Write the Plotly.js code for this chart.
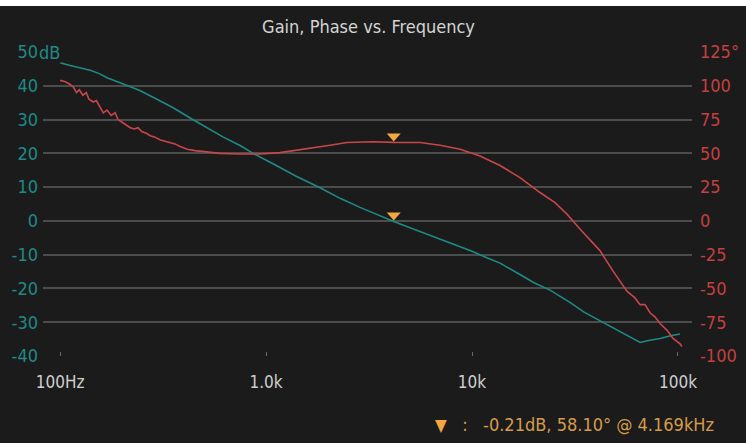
<!DOCTYPE html>
<html><head><meta charset="utf-8">
<script src="https://cdn.plot.ly/plotly-3.0.1.min.js"></script>
<style>
html,body{margin:0;padding:0;background:#ffffff;overflow:hidden;}
#chart{position:absolute;left:0;top:6px;width:746px;height:437px;}
</style>
</head><body><div id="chart"></div>
<script>
// ---- data ----
const gainFreqHz = [95,100,112,125,140,155,169,190,215,244,300,354,430,518,620,748,865,1081,1400,1828,2300,2858,3500,4169,5000,6000,7000,8500,10000,11800,13680,17000,20000,23930,30000,35000,41780,48000,55340,60000,65460,72000,81850,92000,102300];
const gainDb = [47.5,46.8,46.0,45.4,44.6,43.6,42.4,41.2,39.8,38.6,35.8,33.5,30.4,27.6,24.8,22.3,20.0,16.9,13.2,9.8,6.6,4.0,1.7,-0.21,-2.0,-3.8,-5.3,-7.3,-9.0,-10.9,-12.5,-15.8,-18.3,-20.5,-24.2,-27.0,-29.5,-31.6,-33.5,-34.8,-36.0,-35.4,-34.8,-34.0,-33.5];

const phaseFreqHz = [100,106,112,116,120,124,129,134,138,145,150,156,162,169,177,185,191,200,209,219,229,239,250,261,274,289,305,324,342,361,383,414,452,506,598,748,935,1170,1462,1690,2046,2472,3304,4169,5598,7000,8750,10940,13680,17100,21380,25290,28910,33420,37410,41780,48310,56490,61800,65460,69180,73110,77270,81850,88510,94620,102300,104500];
const phaseDeg = [104,103,101,99,95,97,93,95,90,88,89,84,80,82,78,80,75,73,71,69,68,69,66,65,63,62,60,59,58,57,55,53,52,51,50,49.5,49.5,50.5,52.5,54,56,58,58.6,58.1,58,56,53,48,41,32,21,13.5,5,-6,-14,-22,-37,-52,-57,-62,-62,-68,-71,-76,-81,-87,-91,-93];

const markerFreqHz = 4169;
const markerGainDb = -0.21;
const markerPhaseDeg = 58.10;

const titleText = 'Gain, Phase vs. Frequency';
const xTickVals = [100, 1000, 10000, 100000];
const xTickText = ['100Hz', '1.0k', '10k', '100k'];
const gainTickVals = [50, 40, 30, 20, 10, 0, -10, -20, -30, -40];
const gainTickText = ['50', '40', '30', '20', '10', '0', '-10', '-20', '-30', '-40'];
const gainUnit = 'dB';
const phaseTickVals = [125, 100, 75, 50, 25, 0, -25, -50, -75, -100];
const phaseTickText = ['125°', '100', '75', '50', '25', '0', '-25', '-50', '-75', '-100'];

// ---- styling ----
const FONT = '"Liberation Sans Narrow", "DejaVu Sans Condensed", "Roboto Condensed", "Arial Narrow", sans-serif';
const BG = '#1b1b1b';
const TEAL = '#1f8a86';
const RED = '#c8464a';
const ORANGE = '#f4a640';

const traces = [
  {x: gainFreqHz, y: gainDb, type: 'scatter', mode: 'lines', yaxis: 'y',
   line: {color: TEAL, width: 1.6}, hoverinfo: 'skip'},
  {x: phaseFreqHz, y: phaseDeg, type: 'scatter', mode: 'lines', yaxis: 'y2',
   line: {color: RED, width: 1.6}, hoverinfo: 'skip'}
];

function tri(yref, yval) {
  return {type: 'path', xref: 'x', yref: yref, xsizemode: 'pixel', ysizemode: 'pixel',
    xanchor: markerFreqHz, yanchor: yval,
    path: 'M-7,9 L7,9 L0,1 Z', fillcolor: ORANGE, line: {width: 0}, layer: 'above'};
}

const readout = `<span style="color:${ORANGE};font-size:17px">▼</span><span style="color:#d69c4c">&nbsp;&nbsp;&nbsp;:&nbsp;&nbsp;&nbsp;${markerGainDb.toFixed(2)}dB, ${markerPhaseDeg.toFixed(2)}° @ ${(markerFreqHz/1000).toFixed(3)}kHz</span>`;

const layout = {
  width: 746, height: 437,
  paper_bgcolor: BG, plot_bgcolor: BG,
  margin: {l: 43, r: 54, t: 46, b: 87, pad: 0},
  showlegend: false,
  font: {family: FONT, color: '#cfcfcf', size: 16},
  title: {text: titleText, x: 0.494, xanchor: 'center', y: 1 - 21/437, yanchor: 'middle',
          font: {family: FONT, size: 18, color: '#d4d4d4'}},
  xaxis: {type: 'log', range: [1.917, 5.068], tickmode: 'array', tickvals: xTickVals, ticktext: xTickText,
          showgrid: false, zeroline: false, showline: false, ticks: 'inside', ticklen: 4, tickcolor: '#6a6a6a',
          tickfont: {family: FONT, size: 17, color: '#cfcfcf'}, ticklabelstandoff: 14},
  yaxis: {range: [-40, 50], tickmode: 'array', tickvals: gainTickVals, ticktext: gainTickText,
          gridcolor: '#4c4c4c', gridwidth: 2, zeroline: false, showline: false, ticks: '',
          tickfont: {family: FONT, size: 18, color: TEAL}, ticklabelstandoff: 4},
  yaxis2: {range: [-100, 125], overlaying: 'y', side: 'right', tickmode: 'array', tickvals: phaseTickVals, ticktext: phaseTickText,
          showgrid: false, zeroline: false, showline: false, ticks: '',
          tickfont: {family: FONT, size: 18, color: '#c4403f'}, ticklabelstandoff: 7},
  shapes: [tri('y', markerGainDb), tri('y2', markerPhaseDeg)],
  annotations: [
    {xref: 'paper', yref: 'y', x: -0.0077, y: gainTickVals[0], xanchor: 'left', yanchor: 'middle',
     text: gainUnit, showarrow: false, bgcolor: BG, borderpad: 0,
     font: {family: FONT, size: 18, color: TEAL}},
    {xref: 'paper', yref: 'paper', x: (716 - 43) / 649, y: (350 - 418) / 304, xanchor: 'right', yanchor: 'middle',
     text: readout, showarrow: false, font: {family: FONT, size: 18, color: '#d69c4c'}}
  ]
};

Plotly.newPlot('chart', traces, layout, {staticPlot: true, displayModeBar: false});
</script>
</body></html>
